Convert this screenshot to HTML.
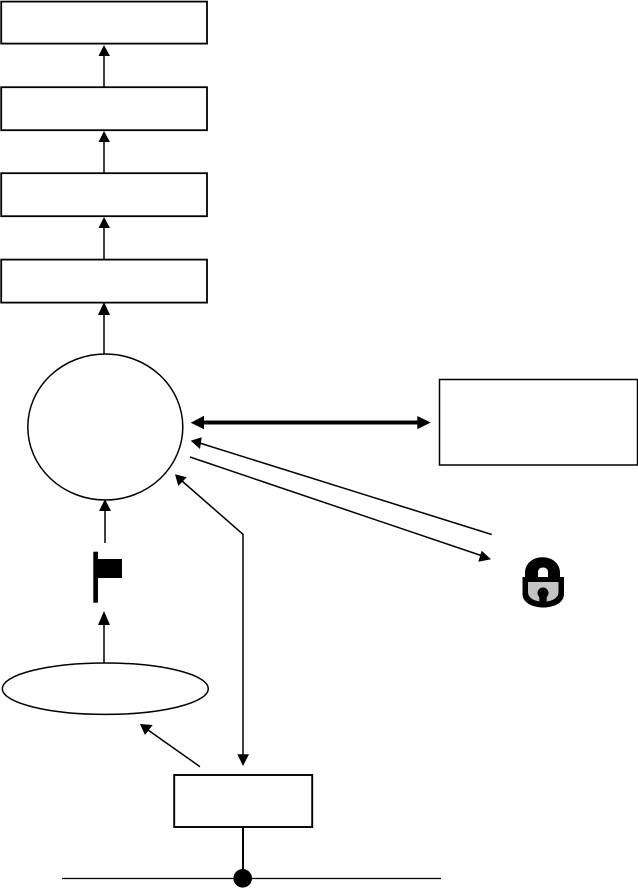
<!DOCTYPE html>
<html>
<head>
<meta charset="utf-8">
<style>
html,body{margin:0;padding:0;background:#fff;width:638px;height:888px;overflow:hidden}
svg{display:block}
</style>
</head>
<body>
<svg width="638" height="888" viewBox="0 0 638 888" xmlns="http://www.w3.org/2000/svg">
<g fill="none" stroke="#000">
  <rect x="1.200" y="1.600" width="205.800" height="42" stroke-width="1.800"/>
  <rect x="1.200" y="87.200" width="205.800" height="43" stroke-width="1.800"/>
  <rect x="1.200" y="173.200" width="205.800" height="43" stroke-width="1.800"/>
  <rect x="1.200" y="259.600" width="205.800" height="43" stroke-width="1.800"/>
  <ellipse cx="105.300" cy="427" rx="77.500" ry="73" stroke-width="1.500"/>
  <rect x="439.500" y="379.500" width="198" height="85.500" stroke-width="1.500"/>
  <ellipse cx="105.300" cy="688.700" rx="103" ry="25.700" stroke-width="1.500"/>
  <rect x="174.200" y="775" width="138" height="52" stroke-width="1.900"/>

  <line x1="104" y1="87" x2="104" y2="55" stroke-width="1.500"/>
  <line x1="104" y1="173" x2="104" y2="141" stroke-width="1.500"/>
  <line x1="104" y1="259" x2="104" y2="227" stroke-width="1.500"/>
  <line x1="104" y1="354" x2="104" y2="314" stroke-width="1.500"/>
  <line x1="105" y1="543" x2="105" y2="510" stroke-width="1.500"/>
  <line x1="104" y1="663" x2="104" y2="624" stroke-width="1.500"/>

  <line x1="201" y1="422.500" x2="420" y2="422.500" stroke-width="4"/>
  <line x1="491.700" y1="534.500" x2="198" y2="442.500" stroke-width="1.500"/>
  <line x1="190" y1="457" x2="484" y2="556.500" stroke-width="1.500"/>
  <polyline points="243,756 243,534.300 182,481" stroke-width="1.500"/>
  <line x1="200" y1="766.700" x2="148" y2="730" stroke-width="1.500"/>

  <line x1="243" y1="827" x2="243" y2="870" stroke-width="2"/>
  <line x1="62" y1="878.500" x2="441" y2="878.500" stroke-width="1.200"/>
</g>
<g fill="#000">
  <polygon points="104,45 98.500,56 110,56"/>
  <polygon points="104,131 98.500,142 110,142"/>
  <polygon points="104,217 98.500,228 110,228"/>
  <polygon points="104,302 98,315 110,315"/>
  <polygon points="105,499 99,511 111,511"/>
  <polygon points="104,611 98,625 110,625"/>
  <polygon points="190.700,422.700 204,415.700 204,429.300"/>
  <polygon points="430.700,422.500 417.300,416 417.300,429.300"/>
  <polygon points="190.700,440.700 201.700,437.300 200,449"/>
  <polygon points="491,559.300 481.700,550.700 478.300,561.700"/>
  <polygon points="175,474.300 186.700,477.300 178.300,486"/>
  <polygon points="243,766 237.300,754.300 249,754.300"/>
  <polygon points="140,724 152.700,725 145,735"/>
  <circle cx="242.700" cy="878.300" r="9.300"/>

  <rect x="93.300" y="551.700" width="4.700" height="51"/>
  <rect x="98" y="559" width="24" height="19"/>
</g>
<g>
  <path d="M525 580 V573 C525 552 560 552 560 573 V580 Z" fill="#000"/>
  <path d="M522.500 577 H564 V594 C564 612 522.500 612 522.500 594 Z" fill="#000"/>
  <path d="M528 582 H558.500 V592 C558.500 605 528 605 528 592 Z" fill="#c4c4c4"/>
  <circle cx="543" cy="593" r="5.500" fill="#000"/>
  <rect x="539.300" y="593" width="7.400" height="13" fill="#000"/>
  <path d="M538 577 V572 C538 566 548 566 548 572 V577 Z" fill="#fff"/>
</g>
</svg>
</body>
</html>
